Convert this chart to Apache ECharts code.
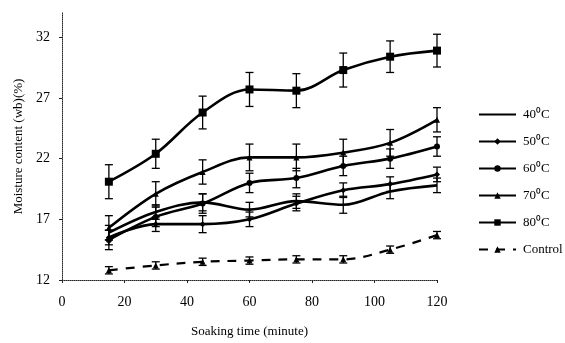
<!DOCTYPE html>
<html>
<head>
<meta charset="utf-8">
<script src="https://cdn.jsdelivr.net/npm/echarts@6/dist/echarts.min.js"></script>
<style>
  html, body { margin: 0; padding: 0; background: #fff; }
  #chart { width: 565px; height: 343px; }
</style>
</head>
<body>
<div id="chart"></div>
<script>
// soaking time (minute)
const times = [15, 30, 45, 60, 75, 90, 105, 120]

const mc40 = [15.9, 17.6, 18.4, 17.8, 18.5, 18.2, 19.3, 19.8]
const mc50 = [15.5, 16.6, 16.6, 17.0, 18.3, 19.4, 19.9, 20.7]
const mc60 = [15.3, 17.2, 18.3, 20.0, 20.4, 21.4, 22.0, 23.0]
const mc70 = [16.3, 19.1, 20.9, 22.1, 22.1, 22.5, 23.3, 25.2]
const mc80 = [20.1, 22.4, 25.8, 27.7, 27.6, 29.3, 30.4, 30.9]
const mcControl = [12.8, 13.2, 13.5, 13.6, 13.7, 13.7, 14.5, 15.7]

// +/- error bar half-lengths
const err40 = [0.6, 0.6, 0.7, 0.6, 0.6, 0.7, 0.6, 0.6]
const err50 = [0.6, 0.6, 0.7, 0.6, 0.6, 0.6, 0.6, 0.6]
const err60 = [0.8, 0.8, 0.8, 0.8, 0.8, 0.8, 0.8, 0.8]
const err70 = [1.0, 1.0, 1.0, 1.1, 1.1, 1.1, 1.1, 1.0]
const err80 = [1.4, 1.2, 1.35, 1.4, 1.4, 1.4, 1.3, 1.35]
const errControl = [0.3, 0.3, 0.3, 0.3, 0.3, 0.3, 0.3, 0.3]

const xTicks = [0, 20, 40, 60, 80, 100, 120]
const yTicks = [12, 17, 22, 27, 32]

const FONT = 'Liberation Serif'

const groups = [
  { name: '40⁰C', values: mc40, err: err40, symbol: 'none', size: 0 },
  { name: '50⁰C', values: mc50, err: err50, symbol: 'diamond', size: 6 },
  { name: '60⁰C', values: mc60, err: err60, symbol: 'circle', size: 6 },
  { name: '70⁰C', values: mc70, err: err70, symbol: 'triangle', size: 6 },
  { name: '80⁰C', values: mc80, err: err80, symbol: 'rect', size: 8 },
  { name: 'Control', values: mcControl, err: errControl, symbol: 'triangle', size: 6, dashed: true },
]

function errorBars(g) {
  return {
    type: 'custom',
    silent: true,
    z: 3,
    data: times.map((t, i) => [t, g.values[i] - g.err[i], g.values[i] + g.err[i]]),
    renderItem: (params, api) => {
      const lo = api.coord([api.value(0), api.value(1)])
      const hi = api.coord([api.value(0), api.value(2)])
      const cap = 4
      const style = { stroke: '#000', lineWidth: 1.3 }
      return {
        type: 'group',
        children: [
          { type: 'line', shape: { x1: lo[0], y1: lo[1], x2: hi[0], y2: hi[1] }, style },
          { type: 'line', shape: { x1: lo[0] - cap, y1: lo[1], x2: lo[0] + cap, y2: lo[1] }, style },
          { type: 'line', shape: { x1: hi[0] - cap, y1: hi[1], x2: hi[0] + cap, y2: hi[1] }, style },
        ],
      }
    },
  }
}

const lineSeries = groups.map(g => ({
  name: g.name,
  type: 'line',
  smooth: 0.35,
  data: times.map((t, i) => [t, g.values[i]]),
  symbol: g.symbol,
  symbolSize: g.size,
  showSymbol: g.symbol !== 'none',
  z: 4,
  itemStyle: { color: '#000' },
  lineStyle: { color: '#000', width: g.dashed ? 2.2 : 2.6, type: g.dashed ? [9, 8] : 'solid' },
}))

const chart = echarts.init(document.getElementById('chart'), null, { renderer: 'canvas' })
chart.setOption({
  animation: false,
  backgroundColor: '#fff',
  grid: { left: 62, right: 128, top: 13, bottom: 63 },
  legend: {
    orient: 'vertical',
    left: 473,
    top: 103,
    itemWidth: 37,
    itemHeight: 8,
    itemGap: 14,
    data: groups.map(g => g.symbol === 'none' ? { name: g.name, itemStyle: { opacity: 0 } } : g.name),
    textStyle: { fontFamily: FONT, fontSize: 13, color: '#000', padding: [0, 0, 0, 2] },
  },
  xAxis: {
    type: 'value',
    min: 0,
    max: 120,
    interval: 20,
    name: 'Soaking time (minute)',
    nameLocation: 'middle',
    nameGap: 45,
    nameTextStyle: { fontFamily: FONT, fontSize: 13, color: '#000' },
    axisLine: { lineStyle: { color: '#222', width: 1, type: 'dotted' } },
    axisTick: { show: true, length: 3, lineStyle: { color: '#222' }, customValues: xTicks },
    axisLabel: { fontFamily: FONT, fontSize: 14, color: '#000', margin: 15, customValues: xTicks },
    splitLine: { show: false },
  },
  yAxis: {
    type: 'value',
    min: 12,
    max: 34,
    name: 'Moisture content (wb)(%)',
    nameLocation: 'middle',
    nameGap: 37,
    nameTextStyle: { fontFamily: FONT, fontSize: 13, color: '#000' },
    axisLine: { show: true, lineStyle: { color: '#222', width: 1, type: 'dotted' } },
    axisTick: { show: true, length: 3, lineStyle: { color: '#222' }, customValues: yTicks },
    axisLabel: { fontFamily: FONT, fontSize: 14, color: '#000', margin: 12, customValues: yTicks },
    splitLine: { show: false },
  },
  series: [...lineSeries, ...groups.map(errorBars)],
})
</script>
</body>
</html>
